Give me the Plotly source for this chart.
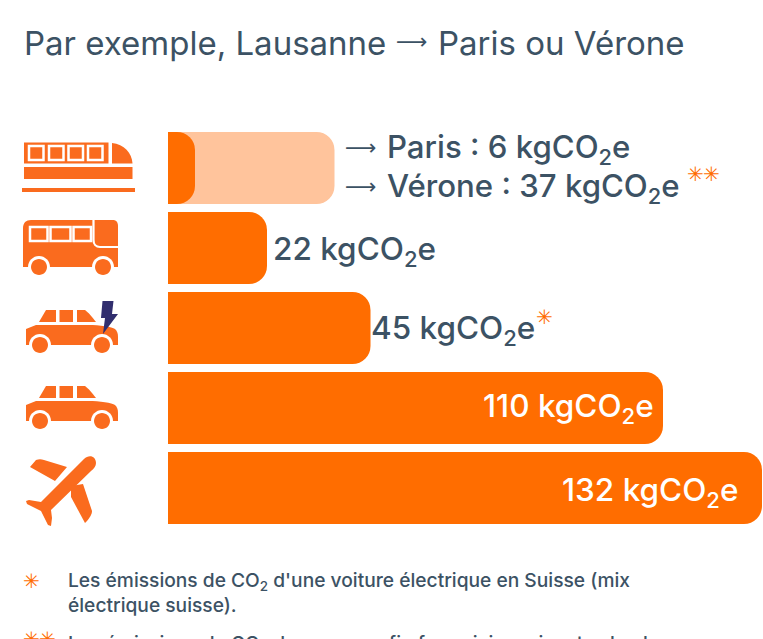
import re
import plotly.graph_objects as go

W, H = 763, 639
modes = ["Train", "Bus", "Voiture électrique", "Voiture", "Avion"]
verone_values = [37, None, None, None, None]
main_values = [6, 22, 45, 110, 132]
ORANGE = "#ff6d00"
ICON = "#fa6b1e"
LIGHT = "#ffc49c"
INK = "#3c5264"
FONT = "Inter"
PX_PER_UNIT = 4.5
PLOT_L, PLOT_T, PLOT_B = 168, 128, 528


def conv(path):
    toks = re.findall(r"[MLCQZ]|-?\d+\.?\d*", path)
    out, isx = [], True
    for t in toks:
        if t in "MLCQZ":
            out.append(t)
            isx = True
        else:
            v = float(t)
            out.append(f"{v / W:.5f}" if isx else f"{1 - v / H:.5f}")
            isx = not isx
    return " ".join(out)


def icon(path, color=ICON):
    return dict(type="path", xref="paper", yref="paper", path=conv(path),
                fillcolor=color, line=dict(width=0), layer="above")


def rect(x0, y0, x1, y1):
    return f"M {x0} {y0} L {x1} {y0} L {x1} {y1} L {x0} {y1} Z"


def circ(cx, cy, r):
    k = r * 0.55
    return (f"M {cx-r} {cy} C {cx-r} {cy-k} {cx-k} {cy-r} {cx} {cy-r} "
            f"C {cx+k} {cy-r} {cx+r} {cy-k} {cx+r} {cy} "
            f"C {cx+r} {cy+k} {cx+k} {cy+r} {cx} {cy+r} "
            f"C {cx-k} {cy+r} {cx-r} {cy+k} {cx-r} {cy} Z")


shapes = []
# train
shapes.append(icon(rect(24, 142.5, 108.5, 163.5)))
for x in (29, 49, 68.5, 88):
    shapes.append(dict(type="rect", xref="paper", yref="paper", x0=x/W, x1=(x+14.5)/W,
                       y0=1-146/H, y1=1-160/H, fillcolor=ICON,
                       line=dict(color="white", width=2.5), layer="above"))
shapes.append(icon("M 112 143 C 124 144 132 153 132.5 163.5 L 112 163.5 Z"))
shapes.append(icon(rect(24, 167, 132.5, 179)))
shapes.append(icon(rect(22, 188, 135, 192)))
# bus
shapes.append(icon("M 23 228 C 23 223 26 220 31 220 L 113 220 C 116 220 118 222 118 226 "
                   "L 118 267 L 23 267 Z"))
for x0, x1 in ((30, 47.5), (50.5, 70.5), (73.5, 91)):
    shapes.append(dict(type="rect", xref="paper", yref="paper", x0=x0/W, x1=x1/W,
                       y0=1-227/H, y1=1-241/H, fillcolor=ICON,
                       line=dict(color="white", width=2.5), layer="above"))
shapes.append(dict(type="path", xref="paper", yref="paper", layer="above",
                   path=conv("M 93.5 220 L 93.5 240 C 93.5 244 96 247 100 247 L 118 247"),
                   line=dict(color="white", width=2.2)))
for cx in (39, 103):
    shapes.append(icon(circ(cx, 267, 11), "white"))
    shapes.append(icon(circ(cx, 267, 8)))
shapes.append(dict(type="rect", xref="paper", yref="paper", x0=20/W, x1=120/W,
                   y0=1-277/H, y1=1-285/H, fillcolor="white", line=dict(width=0), layer="above"))


def car(dy):
    out = [icon(f"M 39 {322+dy} L 46 {310+dy} L 56 {310+dy} L 56 {322+dy} Z"),
           icon(rect(59.5, 310 + dy, 73, 322 + dy)),
           icon(f"M 77 {310+dy} L 85 {310+dy} C 88 {312+dy} 93 {318+dy} 96 {322+dy} L 77 {322+dy} Z"),
           icon(f"M 26 {329+dy} L 36 {325+dy} L 88 {325+dy} C 100 {325+dy} 112 {327+dy} 115 {329+dy} "
                f"C 117 {331+dy} 118 {333+dy} 118 {337+dy} L 118 {345+dy} L 26 {345+dy} Z")]
    for cx in (40, 102):
        out.append(icon(circ(cx, 345 + dy, 11), "white"))
        out.append(icon(circ(cx, 345 + dy, 8)))
    return out


shapes += car(0)
shapes.append(icon("M 102.5 301 L 113.5 301 L 112 314 L 118 314 L 103 334 L 105 318 L 101 318 Z", "#312e6e"))
shapes += car(76)
# plane
shapes.append(icon("M 84 459 C 89 454 96 456 96 463 C 96 466 94 469 91 471 L 51 510 L 52 518 "
                   "L 51 526 L 48 525 L 41 511 L 27 504 L 26 501 L 29 500 L 41 502 Z"))
shapes.append(icon("M 30 467 L 36 460 C 39 459 41 459 44 460 L 67 467 L 55 481 Z"))
shapes.append(icon("M 71 486 L 83 484 L 92 511 C 92 514 90 518 85 523 L 71 497 Z"))


def note(text, x, y, size, color=INK, anchor="left", weight=500, family=FONT):
    return dict(text=text, x=x / W, y=1 - y / H, xref="paper", yref="paper",
                xanchor=anchor, yanchor="middle", showarrow=False, borderpad=0, borderwidth=0,
                font=dict(family=family, size=size, color=color, weight=weight))


CO2 = "kgCO<sub>2</sub>e"
ARROW = "⟶"
STAR = "✳"
anns = [
    note("Par exemple, Lausanne", 24, 43, 33, weight=400),
    note(ARROW, 396, 41, 22, family="DejaVu Sans", weight=400),
    note("Paris ou Vérone", 438, 43, 33, weight=400),
    note(ARROW, 345, 147, 22, family="DejaVu Sans", weight=400),
    note(f"Paris : 6 {CO2}", 387, 149, 31.2),
    note(ARROW, 345, 186, 22, family="DejaVu Sans", weight=400),
    note(f"Vérone : 37 {CO2}", 387, 188, 31.2),
    note(STAR, 687, 174, 20, ORANGE, family="DejaVu Sans", weight=400),
    note(STAR, 703, 174, 20, ORANGE, family="DejaVu Sans", weight=400),
    note(f"22 {CO2}", 273, 250, 31.5),
    note(f"45 {CO2}", 371, 329, 31.5),
    note(STAR, 536, 317, 20, ORANGE, family="DejaVu Sans", weight=400),
    note(f"110 {CO2}", 654, 407, 31.5, "white", "right"),
    note(f"132 {CO2}", 738, 491, 31.5, "white", "right"),
    note(STAR, 23, 581, 20, ORANGE, family="DejaVu Sans", weight=400),
    note("Les émissions de CO<sub>2</sub> d'une voiture électrique en Suisse (mix", 68, 581, 19.2),
    note("électrique suisse).", 68, 605, 19.2),
    note(STAR, 23, 639, 20, ORANGE, family="DejaVu Sans", weight=400),
    note(STAR, 39, 639, 20, ORANGE, family="DejaVu Sans", weight=400),
    note("Les émissions de CO<sub>2</sub> du parcours fin ferroviaire suivant selon le", 68, 644, 19.2),
]

fig = go.Figure()
fig.add_bar(y=modes, x=verone_values, orientation="h", width=0.9,
            marker=dict(color=LIGHT, cornerradius=18, line=dict(width=0)),
            hoverinfo="skip")
fig.add_bar(y=modes, x=main_values, orientation="h", width=0.9, xaxis="x2", yaxis="y2",
            marker=dict(color=ORANGE, cornerradius=18, line=dict(width=0)),
            hoverinfo="skip")
dom_x = [PLOT_L / W, 1]
dom_y = [1 - PLOT_B / H, 1 - PLOT_T / H]
rng = [0, (W - PLOT_L) / PX_PER_UNIT]
fig.update_layout(
    width=W, height=H, margin=dict(l=0, r=0, t=0, b=0),
    paper_bgcolor="white", plot_bgcolor="white", showlegend=False, barmode="overlay",
    xaxis=dict(domain=dom_x, range=rng, visible=False),
    yaxis=dict(domain=dom_y, autorange="reversed", visible=False,
               categoryorder="array", categoryarray=modes),
    xaxis2=dict(domain=dom_x, range=rng, visible=False, overlaying="x", anchor="y2"),
    yaxis2=dict(domain=dom_y, autorange="reversed", visible=False, overlaying="y", anchor="x2",
                categoryorder="array", categoryarray=modes),
    shapes=shapes, annotations=anns,
)
fig.write_html("out.html", config=dict(displayModeBar=False),
               post_script="document.body.style.margin='0';document.body.style.overflow='hidden';")
